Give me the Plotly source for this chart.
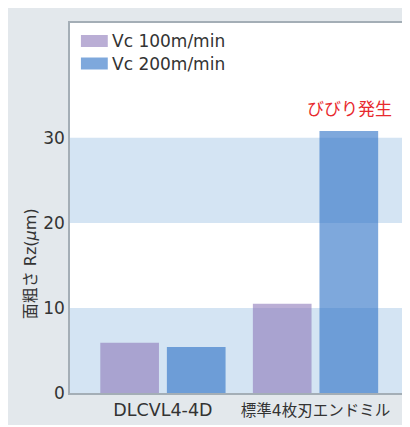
import plotly.graph_objects as go

categories = ["DLCVL4-4D", "標準4枚刃エンドミル"]
series_names = ["Vc 100m/min", "Vc 200m/min"]
vc100 = [5.9, 10.5]
vc200 = [5.4, 30.8]
y_ticks = [0, 10, 20, 30]
bands = [(0, 10), (20, 30)]
y_title = "面粗さ Rz(<i>μ</i>m)"
note_text = "びびり発生"

OFF = 8  # page body margin
W, H = 402, 417
ML, MR, MT, MB = 62, 2, 15, 32
PW, PH = W - ML - MR, H - MT - MB

def px_x(px):  # page x -> paper
    return (px - OFF - ML) / PW

def px_y(py):  # page y -> paper
    return (H - MB - (py - OFF)) / PH

col100 = "rgba(140,120,185,0.6)"
col200 = "rgba(40,110,197,0.6)"
FONT = "DejaVu Sans, Noto Sans CJK JP, sans-serif"
TXT = "#333333"
AX = "#a4aeb6"

fig = go.Figure()
fig.add_bar(x=categories, y=vc100, name=series_names[0],
            marker=dict(color=col100, line=dict(width=0)), showlegend=False)
fig.add_bar(x=categories, y=vc200, name=series_names[1],
            marker=dict(color=col200, line=dict(width=0)), showlegend=False)

shapes = []
for lo, hi in bands:
    shapes.append(dict(type="rect", xref="paper", yref="y", layer="below",
                       x0=0, x1=1, y0=lo, y1=hi,
                       fillcolor="#d4e4f3", line=dict(width=0)))
annotations = []
for i, (nm, c) in enumerate(zip(series_names, [col100, col200])):
    top = 35 + i * 22.5
    shapes.append(dict(type="rect", xref="paper", yref="paper",
                       x0=px_x(81), x1=px_x(108), y0=px_y(top + 12), y1=px_y(top),
                       fillcolor=c, line=dict(width=0)))
    annotations.append(dict(xref="paper", yref="paper", x=px_x(110), y=px_y(top + 6),
                            text=nm, showarrow=False, xanchor="left", yanchor="middle",
                            font=dict(family=FONT, size=17, color=TXT)))

annotations.append(dict(xref="paper", yref="paper", x=px_x(30), y=px_y(264),
                        text=y_title, textangle=-90, showarrow=False,
                        xanchor="center", yanchor="middle",
                        font=dict(family=FONT, size=16, color=TXT)))
annotations.append(dict(x=categories[1], y=vc200[1], xshift=34, yshift=10,
                        text=note_text, showarrow=False, xanchor="center", yanchor="bottom",
                        font=dict(family=FONT, size=17, color="#e8292e")))

tick_text = [categories[0], '<span style="font-size:15.5px">' + categories[1] + '</span>']

fig.update_layout(
    width=W, height=H,
    margin=dict(l=ML, r=MR, t=MT, b=MB, pad=0),
    paper_bgcolor="#e3e8ec", plot_bgcolor="white",
    barmode="group", bargap=0.127, bargroupgap=0.119,
    shapes=shapes, annotations=annotations,
    showlegend=False,
    xaxis=dict(type="category", range=[-0.609, 1.593], showgrid=False, ticks="",
               tickvals=categories, ticktext=tick_text,
               showline=True, mirror=True, linecolor=AX, linewidth=1.5,
               tickfont=dict(family=FONT, size=17.5, color=TXT), fixedrange=True),
    yaxis=dict(range=[0, 43.5], tickvals=y_ticks, showgrid=False, zeroline=False, ticks="",
               showline=True, mirror=True, linecolor=AX, linewidth=1.5,
               tickfont=dict(family=FONT, size=17, color=TXT), fixedrange=True),
)

fig.write_html("out.html")
